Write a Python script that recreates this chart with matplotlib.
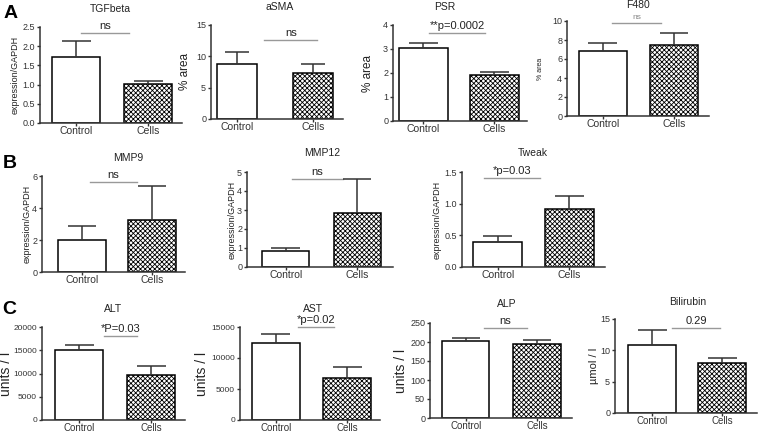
import matplotlib.pyplot as plt
import numpy as np

plt.rcParams['font.family'] = ['Liberation Sans', 'DejaVu Sans']
plt.rcParams['hatch.linewidth'] = 0.6

W, H = 759, 433
groups = ["Control", "Cells"]

# values (mean, upper error)
tgf_mean, tgf_err = [1.72, 1.01], [0.42, 0.08]
asma_mean, asma_err = [8.8, 7.4], [1.9, 1.4]
psr_mean, psr_err = [3.05, 1.9], [0.19, 0.16]
f480_mean, f480_err = [6.85, 7.5], [0.85, 1.2]
mmp9_mean, mmp9_err = [2.0, 3.25], [0.87, 2.15]
mmp12_mean, mmp12_err = [0.84, 2.85], [0.16, 1.78]
tweak_mean, tweak_err = [0.39, 0.92], [0.10, 0.20]
alt_mean, alt_err = [15100, 9700], [1100, 1900]
ast_mean, ast_err = [12500, 6700], [1300, 1800]
alp_mean, alp_err = [203, 194], [8, 12]
bili_mean, bili_err = [10.8, 7.9], [2.5, 0.9]

titles = ["TGFbeta", "aSMA", "PSR", "F480", "MMP9", "MMP12", "Tweak",
          "ALT", "AST", "ALP", "Bilirubin"]
sig_labels = ["ns", "ns", "**p=0.0002", "ns", "ns", "ns", "*p=0.03",
              "*P=0.03", "*p=0.02", "ns", "0.29"]
sig_levels = [2.35, 12.6, 3.67, 9.8, 5.6, 4.63, 1.4, 18100, 15000, 237, 13.6]
ylabels = ["expression/GAPDH", "% area", "% area", "% area",
           "expression/GAPDH", "expression/GAPDH", "expression/GAPDH",
           "units / l", "units / l", "units / l", "µmol / l"]
y_max = [2.5, 15, 4, 10, 6, 5, 1.5, 20000, 15000, 250, 15]
y_step = [0.5, 5, 1, 2, 2, 1, 0.5, 5000, 5000, 50, 5]
y_fmt = ["%.1f", "%d", "%d", "%d", "%d", "%d", "%.1f", "%d", "%d", "%d", "%d"]

means = [tgf_mean, asma_mean, psr_mean, f480_mean, mmp9_mean, mmp12_mean,
         tweak_mean, alt_mean, ast_mean, alp_mean, bili_mean]
errs = [tgf_err, asma_err, psr_err, f480_err, mmp9_err, mmp12_err,
        tweak_err, alt_err, ast_err, alp_err, bili_err]

# layout in pixels: y-axis x, axis end x, top y, baseline y
boxes = [(40, 182, 27, 123), (211, 343, 25, 119), (393, 527, 25, 121),
         (567, 709, 21, 116), (42, 185, 176, 272), (247, 393, 172, 267),
         (462, 605, 172, 267), (42, 185, 327, 420), (240, 380, 327, 420),
         (430, 572, 323, 418), (615, 757, 319, 413)]
xlims = [(-0.5, 1.47), (-0.34, 1.39), (-0.43, 1.46), (-0.5, 1.49),
         (-0.57, 1.47), (-0.54, 1.5), (-0.5, 1.5), (-0.52, 1.47),
         (-0.5, 1.46), (-0.5, 1.49), (-0.53, 1.5)]
widths = [0.67, 0.53, 0.69, 0.67, 0.68, 0.66, 0.68, 0.67, 0.67, 0.66, 0.69]
sig_x = [(0.07, 0.74), (0.36, 1.05), (0.08, 0.87), (0.13, 0.82),
         (0.11, 0.78), (0.09, 0.80), (-0.19, 0.59), (0.34, 0.80),
         (0.31, 0.81), (0.26, 0.86), (0.29, 0.97)]
title_pos = [(110, 9), (280, 7), (445, 7), (638, 5), (128, 158),
             (322, 153), (533, 153), (113, 309), (313, 309), (507, 304),
             (688, 302)]
ylab_x = [15, 185, 368, 541, 27, 232, 437, 6, 202, 401, 594]
ylab_size = [6.5, 8.5, 8.5, 5, 6.5, 6.5, 6.5, 10, 10, 10, 8]


def fx(x):
    return x / W


def fy(y):
    return 1 - y / H


fig = plt.figure(figsize=(W / 100, H / 100), dpi=100)

for i in range(len(titles)):
    l, r, t, b = boxes[i]
    ax = fig.add_axes([fx(l), fy(b), (r - l) / W, (b - t) / H])
    m, e = means[i], errs[i]
    w = widths[i]
    ax.bar([0], [m[0]], width=w, color="white", edgecolor="black", linewidth=1.1, zorder=2)
    ax.bar([1], [m[1]], width=w, color="white", edgecolor="black", linewidth=1.1,
           hatch="xxxxxxx", zorder=2)
    for k in range(2):
        top = m[k] + e[k]
        ax.vlines(k, m[k], top, color="#333333", linewidth=1.1, zorder=3)
        ax.hlines(top, k - 0.3 * w, k + 0.3 * w, color="#333333", linewidth=1.1, zorder=3)

    ax.set_xlim(*xlims[i])
    ax.set_ylim(0, y_max[i])
    ticks = np.arange(0, y_max[i] + y_step[i] / 2, y_step[i])
    ax.set_yticks(ticks)
    ax.set_yticklabels([y_fmt[i] % v for v in ticks])
    ax.set_xticks([0, 1])
    ax.set_xticklabels(groups, fontsize=7.5 if i < 7 else 7)
    ax.tick_params(axis="y", labelsize=6.5 if y_max[i] < 1000 else 6, length=2.5,
                   width=1, pad=1, colors="#333333")
    ax.tick_params(axis="x", length=2, width=1, pad=0.5, colors="#333333")
    for s in ["top", "right"]:
        ax.spines[s].set_visible(False)
    for s in ["left", "bottom"]:
        ax.spines[s].set_color("#333333")
        ax.spines[s].set_linewidth(1.1)
    ax.patch.set_alpha(0)

    # significance bar
    x0, x1 = sig_x[i]
    lc = "#999999"
    ax.plot([x0, x1], [sig_levels[i]] * 2, color=lc, linewidth=1, clip_on=False)
    small = titles[i] == "F480"
    ax.annotate(sig_labels[i], ((x0 + x1) / 2, sig_levels[i]), xytext=(0, 1.5),
                textcoords="offset points", ha="center", va="bottom",
                fontsize=6 if small else 8, color="#888888" if small else "#222222",
                annotation_clip=False)

    fig.text(fx(title_pos[i][0]), fy(title_pos[i][1]), titles[i], ha="center",
             va="center", fontsize=7.5, color="#222222")
    fig.text(fx(ylab_x[i]), fy((t + b) / 2), ylabels[i], rotation=90, ha="center",
             va="center", fontsize=ylab_size[i], color="#222222")

for lab, x, y in [("A", 11, 14), ("B", 10, 163), ("C", 9, 310)]:
    fig.text(fx(x), fy(y), lab, ha="center", va="center", fontsize=14,
             fontweight="bold")

fig.savefig("out.png", dpi=100)
